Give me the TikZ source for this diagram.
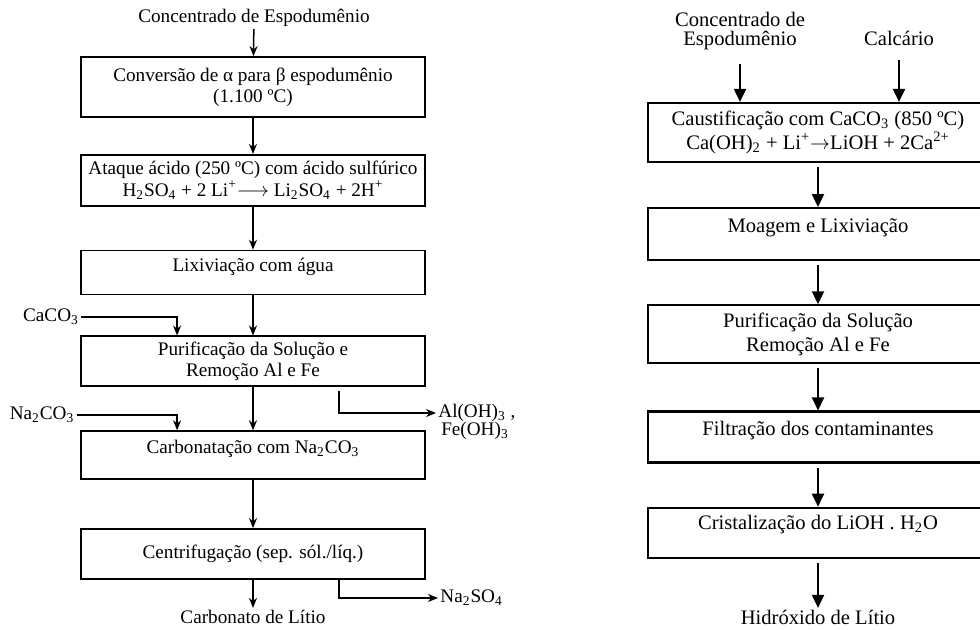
\documentclass[tikz,border=0pt]{standalone}
\usepackage{fontspec}
\setmainfont{Liberation Serif}
\usetikzlibrary{arrows.meta, positioning}

\begin{document}
\begin{tikzpicture}[x=0.5pt, y=-0.5pt,
  box/.style={rectangle, draw, line width=0.9pt, minimum width=172pt,
              align=center, inner sep=2pt, font=\fontsize{9.6}{10.6}\selectfont},
  rbox/.style={rectangle, draw, line width=1.1pt, minimum width=170pt,
               align=center, inner sep=2pt, font=\fontsize{10.3}{11.6}\selectfont},
  lbl/.style={align=center, inner sep=1pt, font=\fontsize{9.6}{10.2}\selectfont},
  rlbl/.style={align=center, inner sep=1pt, font=\fontsize{10.3}{9.2}\selectfont},
  arr/.style={-{Stealth[length=5pt, width=4pt]}, line width=0.75pt},
  rarr/.style={-{Triangle[length=6.5pt, width=6pt]}, line width=1pt, shorten <=2pt},
]
  \useasboundingbox (0,0) rectangle (980,630);
  \clip (0,0) rectangle (980,630);

  % Carbonato de litio (left)
  \node[lbl] (lsrc) at (254,18) {Concentrado de Espodumênio};
  \node[box, minimum height=30pt] (l1) at (253,87)
    {Conversão de α para β espodumênio\\(1.100 ºC)};
  \node[box, minimum height=25.5pt, below=18pt of l1] (l2)
    {Ataque ácido (250 ºC) com ácido sulfúrico\\
     H\textsubscript{2}SO\textsubscript{4} + 2 Li\textsuperscript{+}$\longrightarrow$
     Li\textsubscript{2}SO\textsubscript{4} + 2H\textsuperscript{+}};
  \node[box, minimum height=22pt, text depth=8pt, below=21.5pt of l2] (l3) {Lixiviação com água};
  \node[box, minimum height=25pt, below=20pt of l3] (l4) {Purificação da Solução e\\Remoção Al e Fe};
  \node[box, minimum height=24pt, text depth=8pt, below=21.5pt of l4] (l5)
    {Carbonatação com Na\textsubscript{2}CO\textsubscript{3}};
  \node[box, minimum height=25pt, below=24pt of l5] (l6) {Centrifugação (sep. sól./líq.)};
  \node[lbl, below=14pt of l6] (lout) {Carbonato de Lítio};

  \node[lbl] (caco) at (51,317) {CaCO\textsubscript{3}};
  \node[lbl] (naco) at (42,415) {Na\textsubscript{2}CO\textsubscript{3}};
  \node[lbl, anchor=west] (aloh) at (436,413) {Al(OH)\textsubscript{3} ,};
  \node[lbl] (feoh) at (475,431) {Fe(OH)\textsubscript{3}};
  \node[lbl, anchor=west] (naso) at (438,598) {Na\textsubscript{2}SO\textsubscript{4}};

  \draw[arr] (lsrc) -- (l1);
  \draw[arr] (l1) -- (l2);
  \draw[arr] (l2) -- (l3);
  \draw[arr] (l3) -- (l4);
  \draw[arr] (l4) -- (l5);
  \draw[arr] (l5) -- (l6);
  \draw[arr] (l6) -- (lout);
  \draw[arr] (caco.east) -| ([xshift=48.5pt]l4.north west);
  \draw[arr] (naco.east) -| ([xshift=48.5pt]l5.north west);
  \draw[arr, shorten <=2pt] ([xshift=129.5pt]l4.south west) |- (aloh.west);
  \draw[arr] ([xshift=129.5pt]l6.south west) |- (naso.west);

  % Hidroxido de litio (right)
  \node[rlbl] (rsrc) at (740,31) {Concentrado de\\Espodumênio};
  \node[rlbl] (lime) at (899,38) {Calcário};
  \node[rbox, minimum height=29.5pt] (r1) at (818,132.5)
    {Caustificação com CaCO\textsubscript{3} (850 ºC)\\
     Ca(OH)\textsubscript{2} + Li\textsuperscript{+}$\rightarrow$LiOH + 2Ca\textsuperscript{2+}};
  \node[rbox, minimum height=26pt, text depth=9pt, below=22pt of r1] (r2) {Moagem e Lixiviação};
  \node[rbox, minimum height=29pt, below=21.5pt of r2] (r3) {Purificação da Solução\\Remoção Al e Fe};
  \node[rbox, minimum height=25.5pt, text depth=9pt, below=23pt of r3] (r4) {Filtração dos contaminantes};
  \node[rbox, minimum height=25pt, text depth=10pt, below=21.5pt of r4] (r5)
    {Cristalização do LiOH . H\textsubscript{2}O};
  \node[rlbl, below=24.5pt of r5] (rout) {Hidróxido de Lítio};

  \draw[rarr, shorten <=6pt] (rsrc.south) -- (rsrc.south |- r1.north);
  \draw[rarr, shorten <=6pt] (lime.south) -- (lime.south |- r1.north);
  \draw[rarr] (r1) -- (r2);
  \draw[rarr] (r2) -- (r3);
  \draw[rarr] (r3) -- (r4);
  \draw[rarr] (r4) -- (r5);
  \draw[rarr] (r5) -- (rout);
\end{tikzpicture}
\end{document}
